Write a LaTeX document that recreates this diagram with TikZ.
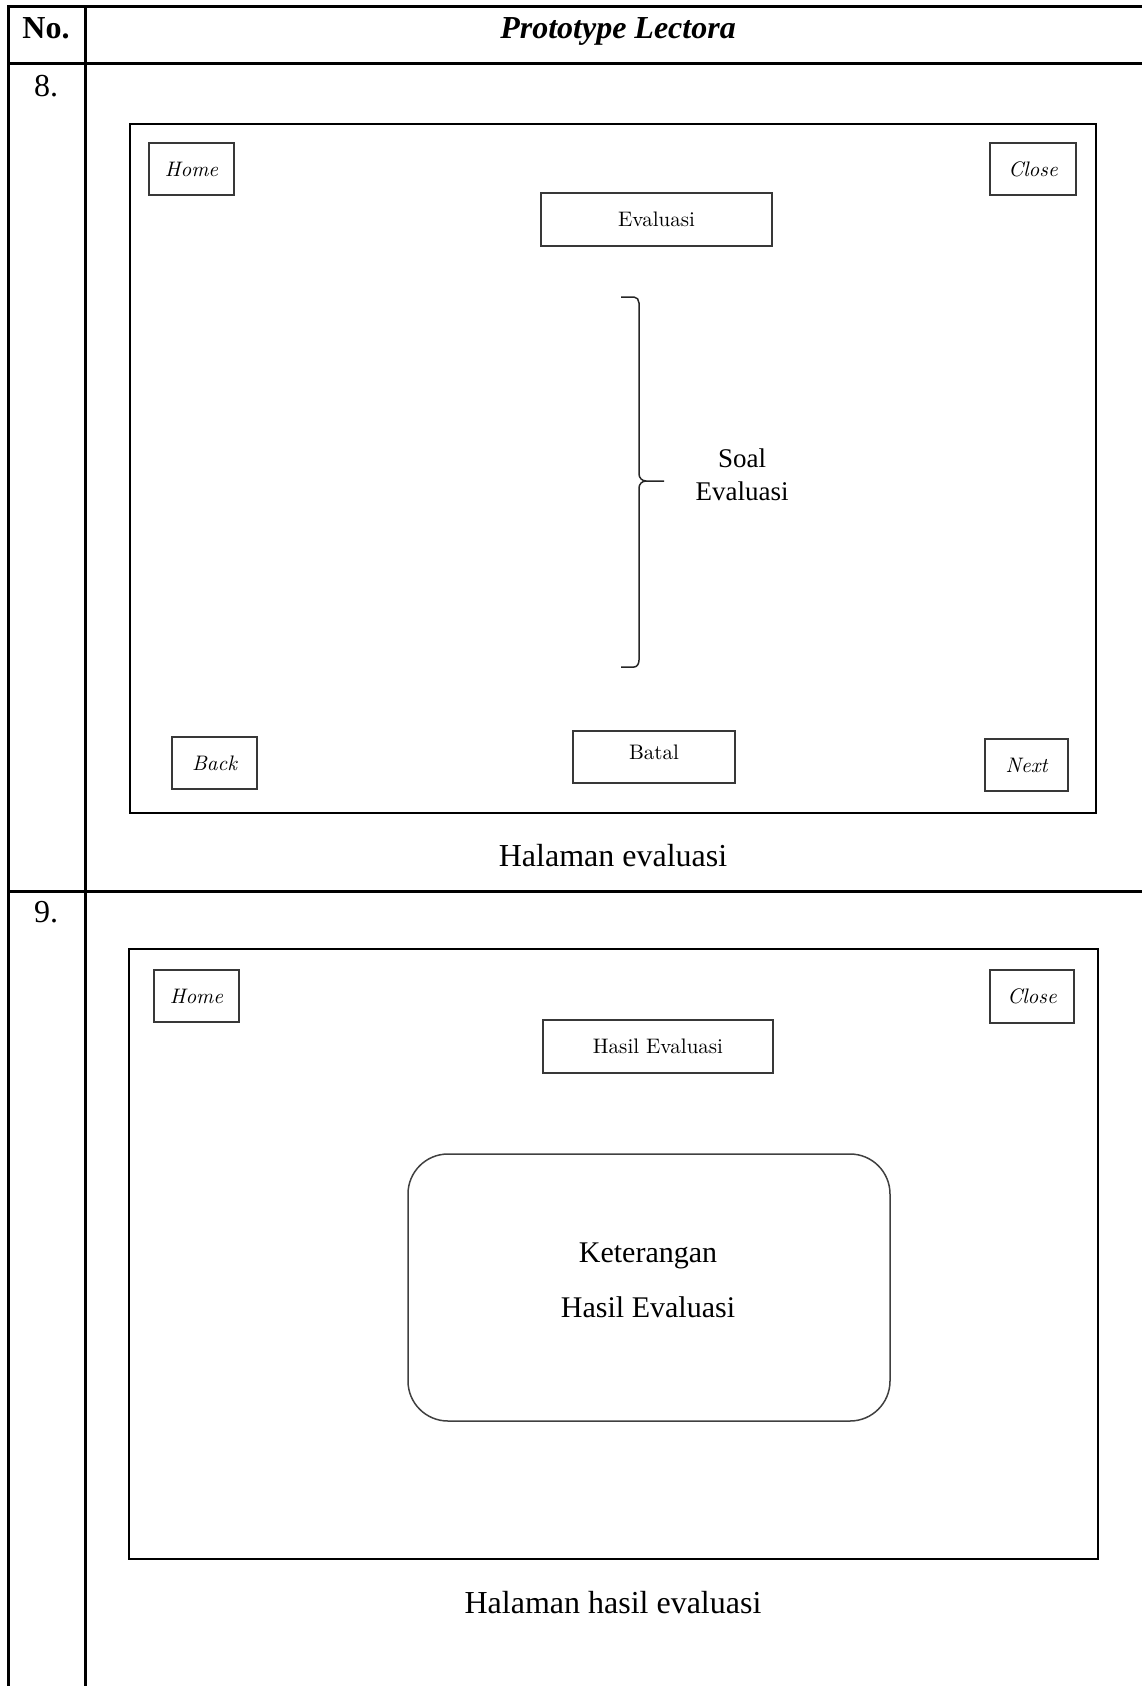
\documentclass[tikz,border=0pt]{standalone}
\usepackage{fontspec}
\setmainfont{Liberation Serif}
\newfontfamily\lmfont{lmroman10-regular.otf}[ItalicFont=lmroman10-italic.otf]
\begin{document}
\begin{tikzpicture}[x=1pt,y=-1pt,
  rule/.style={line width=3pt, black},
  screen/.style={draw=black, line width=2pt},
  btn/.style 2 args={draw=black!78, line width=1.3pt, inner sep=0pt,
    minimum width=#1pt, minimum height=#2pt,
    font=\lmfont\fontsize{21}{25}\selectfont},
  ibtn/.style 2 args={btn={#1}{#2}, font=\lmfont\itshape\fontsize{21}{25}\selectfont},
  cell/.style={inner sep=0pt, anchor=base, font=\fontsize{32}{38}\selectfont},
  note/.style={inner sep=0pt, anchor=base, font=\fontsize{27}{32}\selectfont},
  big/.style={inner sep=0pt, anchor=base, font=\fontsize{30}{36}\selectfont},
  bracket/.style={line width=1.5pt, black!85, line join=round}
]
\useasboundingbox (0,0) rectangle (1141,1686);

% table grid
\draw[rule] (8,1690) -- (8,7) -- (1145,7);
\draw[rule] (85,7) -- (85,1690);
\draw[rule] (8,64) -- (1145,64);
\draw[rule] (8,891) -- (1145,891);

% header and row numbers
\node[cell, font=\bfseries\fontsize{32}{38}\selectfont] (hno) at (46,39) {No.};
\node[cell, font=\bfseries\itshape\fontsize{32}{38}\selectfont] (hproto) at (618,39) {Prototype Lectora};
\node[cell] (n8) at (46,96) {8.};
\node[cell] (n9) at (46,922) {9.};

% ---- screen 8: evaluation page ----
\draw[screen] (130,124) rectangle (1096,813);
\node[ibtn={85}{52}] (home8) at (191.5,169) {Home};
\node[ibtn={86}{52}] (close8) at (1033,169) {Close};
\node[btn={231}{53}] (eval8) at (656.5,219.5) {Evaluasi};
\node[ibtn={85}{52}] (back8) at (214.5,763) {Back};
\node[btn={162}{52}, text depth=10pt] (batal8) at (654,757) {Batal};
\node[ibtn={83}{52}] (next8) at (1026.5,765) {Next};

% curly bracket around the questions
\draw[bracket] (621,297) -- (634,297) to[out=0,in=90] (639,303) -- (639,474)
  to[out=-90,in=180] (646,481) -- (664,481);
\draw[bracket] (646,481) to[out=180,in=90] (639,488) -- (639,660)
  to[out=-90,in=0] (634,667) -- (621,667);
\node[note] (soal1) at (742,467) {Soal};
\node[note] (soal2) at (742,500) {Evaluasi};

\node[cell] (cap8) at (613,866) {Halaman evaluasi};

% ---- screen 9: evaluation result page ----
\draw[screen] (129,949) rectangle (1098,1559);
\node[ibtn={85}{52}] (home9) at (196.5,996) {Home};
\node[ibtn={84}{53}] (close9) at (1032,996.5) {Close};
\node[btn={230}{53}] (hasil9) at (658,1046.5) {Hasil Evaluasi};
\draw[draw=black!75, line width=1.5pt, rounded corners=40pt] (408,1154) rectangle (890,1421);
\node[big] (ket1) at (648,1262) {Keterangan};
\node[big] (ket2) at (648,1317) {Hasil Evaluasi};

\node[cell] (cap9) at (613,1613) {Halaman hasil evaluasi};
\end{tikzpicture}
\end{document}
